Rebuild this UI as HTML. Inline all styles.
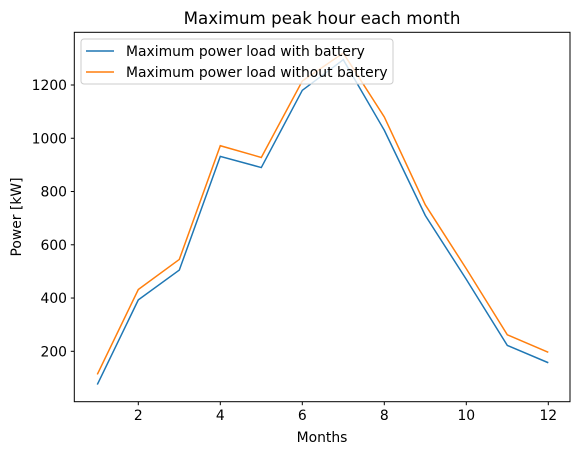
<!DOCTYPE html>
<html><head><meta charset="utf-8"><style>
body{margin:0;background:#fff}
text{font-family:"DejaVu Sans","Liberation Sans",sans-serif;fill:#000}
</style></head><body>
<svg id="chart" width="580" height="455" xmlns="http://www.w3.org/2000/svg">
<text x="322" y="24" font-size="16.7" text-anchor="middle">Maximum peak hour each month</text>
<g id="grid"></g>
<g id="series"></g>
<rect x="74.3" y="32.3" width="495.7" height="369.4" fill="none" stroke="#000" stroke-width="1"/>
<text x="322" y="442" font-size="13.9" text-anchor="middle">Months</text>
<text transform="translate(21,217) rotate(-90)" font-size="13.9" text-anchor="middle">Power [kW]</text>
<g>
<rect x="81" y="39" width="312" height="45" rx="3" fill="#fff" fill-opacity="0.8" stroke="#ccc"/>
<line x1="86" y1="51" x2="114" y2="51" stroke="#1f77b4" stroke-width="1.5"/>
<text x="126" y="56" font-size="13.9">Maximum power load with battery</text>
<line x1="86" y1="72" x2="114" y2="72" stroke="#ff7f0e" stroke-width="1.5"/>
<text x="126" y="77" font-size="13.9">Maximum power load without battery</text>
</g>
</svg>
<script>
const months=[1,2,3,4,5,6,7,8,9,10,11,12];
const withBattery=[75,393,505,932,890,1180,1295,1030,710,470,222,157];
const withoutBattery=[113,432,545,972,928,1215,1320,1080,750,510,262,196];
const xTicks=[2,4,6,8,10,12];
const yTicks=[200,400,600,800,1000,1200];
const NS="http://www.w3.org/2000/svg";
function xs(m){return 97.3+(m-1)*41;}
function ys(v){return 351.3-(v-200)*0.2663;}
const g=document.getElementById('grid');
function mk(t,a,p){const e=document.createElementNS(NS,t);for(const k in a)e.setAttribute(k,a[k]);p.appendChild(e);return e;}
xTicks.forEach(t=>{
 const l=mk('line',{x1:xs(t),x2:xs(t),y1:401.7,y2:405.2,stroke:'#000'},g);
 
 
 const tx=mk('text',{x:xs(t),y:420,'font-size':13.9,'text-anchor':'middle'},g);
 tx.textContent=t;
 
 
});
yTicks.forEach(t=>{
 const l=mk('line',{x1:70.8,x2:74.3,y1:ys(t),y2:ys(t),stroke:'#000'},g);
 
 
 const tx=mk('text',{x:67,y:ys(t)+5,'font-size':13.9,'text-anchor':'end'},g);
 tx.textContent=t;
 
 
});
const s=document.getElementById('series');
function line(vals,color,name){
 const p=mk('polyline',{points:vals.map((v,i)=>xs(months[i])+','+ys(v)).join(' '),fill:'none',stroke:color,'stroke-width':1.5},s);
 
 
}
line(withBattery,'#1f77b4','line-with-battery');
line(withoutBattery,'#ff7f0e','line-without-battery');
</script>
</body></html>
